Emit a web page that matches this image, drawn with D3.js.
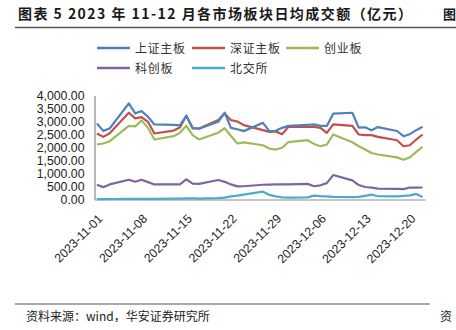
<!DOCTYPE html>
<meta charset="utf-8">
<style>
  body { margin: 0; background: #fff; }
  svg { display: block; }
  .cn { font-family: "Noto Sans CJK SC", sans-serif; }
  .num { font-family: "Liberation Sans", Arial, sans-serif; }
</style>
<div id="chart"></div>

<script src="https://cdn.jsdelivr.net/npm/d3@7/dist/d3.min.js"></script>
<script>

// trading days, 2023-11-01 .. 2023-12-22
var dates = ["2023-11-01","2023-11-02","2023-11-03","2023-11-06","2023-11-07","2023-11-08","2023-11-09","2023-11-10",
  "2023-11-13","2023-11-14","2023-11-15","2023-11-16","2023-11-17","2023-11-20","2023-11-21","2023-11-22","2023-11-23","2023-11-24",
  "2023-11-27","2023-11-28","2023-11-29","2023-11-30","2023-12-01","2023-12-04","2023-12-05","2023-12-06","2023-12-07","2023-12-08",
  "2023-12-11","2023-12-12","2023-12-13","2023-12-14","2023-12-15","2023-12-18","2023-12-19","2023-12-20","2023-12-21","2023-12-22"];

var shMain  = [2926,2640,2732,3698,3312,3401,3181,2887, 2870,2848,3220,2756,2720,2990,3336,2756,2700,2630, 2949,2628,2640,2756,2830,2870,2887,2833,2830,3300, 3336,2765,2775,2660,2785,2635,2435,2512,2667,2795];
var szMain  = [2539,2408,2550,3336,3118,3169,2988,2539, 2650,2771,3220,2732,2730,3060,3312,3050,3000,2860, 2670,2601,2620,2512,2795,2795,2795,2756,2563,2887, 2833,2500,2474,2474,2408,2280,2048,2087,2307,2500];
var chinext = [2114,2153,2242,2833,2810,3042,2756,2307, 2435,2563,2833,2474,2307,2570,2740,2440,2153,2200, 2087,1960,1921,1990,2210,2280,2138,2048,2114,2500, 2200,2048,1925,1790,1730,1620,1530,1620,1830,2021];
var star    = [ 568, 475, 580, 761, 684, 761, 669, 580,  580, 580, 775, 610, 600, 750, 680, 580, 505, 510,  568, 575, 578, 580, 585, 600, 510, 545, 630, 940,  734, 555, 480, 455, 420, 410, 400, 460, 460, 462];
var bse     = [  20,  18,  20,  25,  22,  25,  25,  25,   30,  35,  45,  40,  35,  50,  70, 120, 150, 190,  300, 180, 120,  80,  70,  80, 150, 130, 120, 100,   95, 100, 140, 190, 125, 120, 140, 160, 215,  95];

var seriesNames = ["上证主板","深证主板","创业板","科创板","北交所"];
var seriesColors = ["#4F81BD","#C0504D","#9BBB59","#8064A2","#4BACC6"];
var tickDates = ["2023-11-01","2023-11-08","2023-11-15","2023-11-22","2023-11-29","2023-12-06","2023-12-13","2023-12-20"];
var yTicks = [0,500,1000,1500,2000,2500,3000,3500,4000];

var width = 456, height = 330;
var parse = d3.timeParse("%Y-%m-%d");
var days = dates.map(parse);

var svg = d3.select("#chart").append("svg")
    .attr("width", width)
    .attr("height", height);

// title
svg.append("text")
    .attr("class", "cn")
    .attr("x", 18).attr("y", 19)
    .attr("font-size", 14).attr("font-weight", "bold")
    .attr("fill", "#1a1a1a")
    .attr("textLength", 394).attr("lengthAdjust", "spacing")
    .text("图表 5 2023 年 11-12 月各市场板块日均成交额（亿元）");
// start of the next column's title, cut off by the page
svg.append("text")
    .attr("class", "cn")
    .attr("x", 443).attr("y", 19)
    .attr("font-size", 13).attr("font-weight", "bold")
    .attr("fill", "#1a1a1a")
    .text("图");
svg.append("line")
    .attr("x1", 15).attr("x2", width).attr("y1", 27.5).attr("y2", 27.5)
    .attr("stroke", "#555").attr("stroke-width", 1.3);

// scales
var x = d3.scaleTime()
    .domain([d3.timeHour.offset(days[0], -9), d3.timeHour.offset(days[days.length - 1], 9)])
    .range([94.5, 425]);
var y = d3.scaleLinear()
    .domain([0, 4000])
    .range([199.5, 95.5]);

// y axis
var yAxis = svg.append("g")
    .attr("transform", "translate(94.5,0)")
    .call(d3.axisLeft(y).tickValues(yTicks).tickFormat(d3.format(",.2f")).tickSize(0).tickPadding(10));
yAxis.select(".domain").attr("stroke", "#8c8c8c").attr("stroke-width", 1.2);
yAxis.selectAll("text")
    .attr("class", "num")
    .attr("font-size", 12.3)
    .attr("fill", "#222");

// x axis
var xAxis = svg.append("g")
    .attr("transform", "translate(0," + y(0) + ")")
    .call(d3.axisBottom(x).tickValues(tickDates.map(parse)).tickFormat(d3.timeFormat("%Y-%m-%d")).tickSize(0));
xAxis.select(".domain").attr("stroke", "#8c8c8c").attr("stroke-width", 1.2);
xAxis.selectAll("text")
    .attr("class", "num")
    .attr("font-size", 12.3)
    .attr("fill", "#222")
    .attr("dy", null)
    .attr("y", 0)
    .style("text-anchor", "end")
    .attr("transform", "translate(6,20)rotate(-45)");

// lines
var allSeries = [shMain, szMain, chinext, star, bse];
var line = d3.line()
    .x(function(d, i) { return x(days[i]); })
    .y(function(d) { return y(d); });

// draw in reverse so the first series ends on top
svg.selectAll("path.series")
    .data(allSeries.map(function(v, i) { return {values: v, i: i}; }).reverse())
    .enter()
    .append("path")
      .attr("class", "series")
      .attr("fill", "none")
      .attr("stroke", function(d) { return seriesColors[d.i]; })
      .attr("stroke-width", 2.2)
      .attr("stroke-linejoin", "round")
      .attr("d", function(d) { return line(d.values); });

// legend
var legendPos = [[97, 48], [192, 48], [286, 48], [97, 68], [192, 68]];
var legend = svg.selectAll("g.legend")
    .data(seriesNames)
    .enter()
    .append("g")
      .attr("class", "legend")
      .attr("transform", function(d, i) { return "translate(" + legendPos[i][0] + "," + legendPos[i][1] + ")"; });
legend.append("line")
    .attr("x1", 0).attr("x2", 33)
    .attr("stroke", function(d, i) { return seriesColors[i]; })
    .attr("stroke-width", 2.6);
legend.append("text")
    .attr("class", "cn")
    .attr("x", 38).attr("y", 4.5)
    .attr("font-size", 12)
    .attr("fill", "#333")
    .attr("textLength", function(d) { return d.length * 12.5; })
    .text(function(d) { return d; });

// source note
svg.append("line")
    .attr("x1", 15).attr("x2", 430).attr("y1", 304).attr("y2", 304)
    .attr("stroke", "#555").attr("stroke-width", 1.1);
svg.append("text")
    .attr("class", "cn")
    .attr("x", 26).attr("y", 321)
    .attr("font-size", 12)
    .attr("fill", "#222")
    .text("资料来源：wind，华安证券研究所");
svg.append("text")
    .attr("class", "cn")
    .attr("x", 440).attr("y", 321)
    .attr("font-size", 12)
    .attr("fill", "#222")
    .text("资");

</script>
